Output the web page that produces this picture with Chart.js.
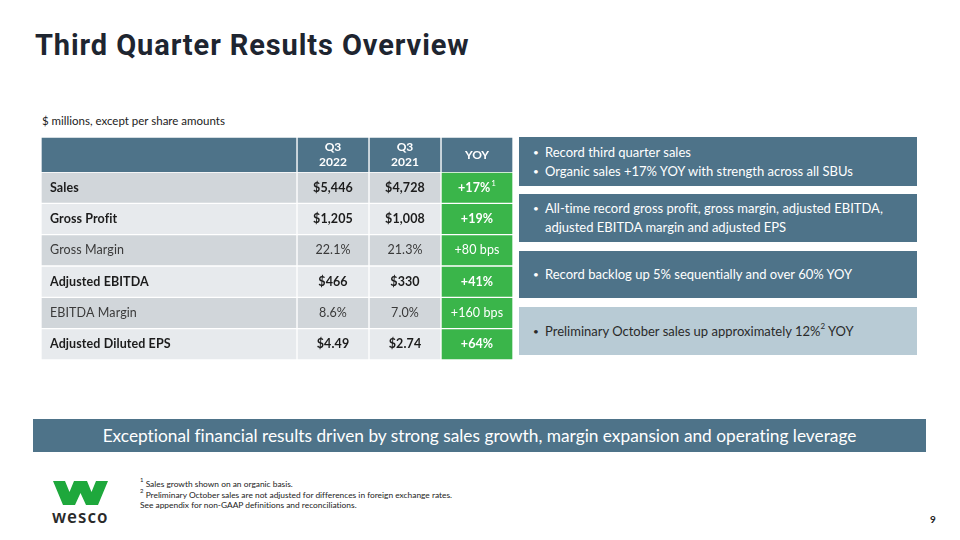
<!DOCTYPE html>
<html>
<head>
<meta charset="utf-8">
<script src="https://cdn.jsdelivr.net/npm/chart.js@4.4.0/dist/chart.umd.min.js"></script>
<style>
  body { margin: 0; width: 960px; height: 540px; background: #fff; font-family: Lato, sans-serif; position: relative; overflow: hidden; font-variant-ligatures: none; }
  .abs { position: absolute; }
  #title { left: 35px; top: 28px; font-family: Roboto, sans-serif; font-weight: 700; font-size: 29px; color: #1e2530; letter-spacing: 0.9px; }
  #units { left: 42px; top: 114px; font-size: 11.5px; color: #222; }
  #headWrap { left: 41px; top: 137px; width: 472px; height: 36px; }
  #bodyWrap { left: 41px; top: 172px; width: 472px; height: 188px; }
  .box { left: 519px; width: 398px; color: #fff; font-size: 13px; box-sizing: border-box; padding-left: 14px; display: flex; flex-direction: column; justify-content: center; }
  .box div { position: relative; padding-left: 12px; line-height: 19px; }
  .box div::before { content: "\2022"; position: absolute; left: 0; font-size: 10px; }
  sup { line-height: 0; position: relative; top: -1px; }
  #banner { left: 33px; top: 419px; width: 893px; height: 33px; background: #4e7389; color: #fff; font-size: 17.3px; line-height: 33px; text-align: center; }
  #notes { left: 140px; top: 479px; font-size: 8.4px; line-height: 10.5px; color: #222; }
  #brand { left: 52px; top: 505px; font-family: "Noto Sans", sans-serif; font-weight: 600; font-size: 17px; color: #2a2a2a; letter-spacing: 1px; }
  #pageNo { left: 930px; top: 513px; font-size: 10px; font-weight: 700; color: #222; }
</style>
</head>
<body>
<div id="title" class="abs">Third Quarter Results Overview</div>
<div id="units" class="abs">$ millions, except per share amounts</div>
<div id="headWrap" class="abs"><canvas id="cabecalho"></canvas></div>
<div id="bodyWrap" class="abs"><canvas id="tabela"></canvas></div>

<div class="abs box" style="top:137px;height:49px;background:#4e7389;">
  <div>Record third quarter sales</div>
  <div>Organic sales +17% YOY with strength across all SBUs</div>
</div>
<div class="abs box" style="top:194px;height:48px;background:#4e7389;">
  <div>All-time record gross profit, gross margin, adjusted EBITDA,<br>adjusted EBITDA margin and adjusted EPS</div>
</div>
<div class="abs box" style="top:251px;height:47px;background:#4e7389;">
  <div>Record backlog up 5% sequentially and over 60% YOY</div>
</div>
<div class="abs box" style="top:307px;height:48px;background:#b8cbd5;color:#2a2a2a;">
  <div>Preliminary October sales up approximately 12%<sup style="font-size:8px;">2</sup> YOY</div>
</div>

<div id="banner" class="abs">Exceptional financial results driven by strong sales growth, margin expansion and operating leverage</div>

<svg class="abs" style="left:53px;top:481px;" width="55" height="24" viewBox="0 0 55 24">
  <polygon fill="#1ea83c" points="0,0 12,0 16.5,11 21,0 34,0 38.5,11 43,0 55,0 45,24 33,24 27.5,12 22,24 10,24"/>
</svg>
<div id="brand" class="abs">wesco</div>
<div id="notes" class="abs">
  <sup style="font-size:6px;">1</sup> Sales growth shown on an organic basis.<br>
  <sup style="font-size:6px;">2</sup> Preliminary October sales are not adjusted for differences in foreign exchange rates.<br>
  See appendix for non-GAAP definitions and reconciliations.
</div>
<div id="pageNo" class="abs">9</div>

<script>
// dados da tabela
const rowLabels = ['Sales', 'Gross Profit', 'Gross Margin', 'Adjusted EBITDA', 'EBITDA Margin', 'Adjusted Diluted EPS'];
const columnHeads = ['', 'Q3|2022', 'Q3|2021', 'YOY'];
const q3_2022 = ['$5,446', '$1,205', '22.1%', '$466', '8.6%', '$4.49'];
const q3_2021 = ['$4,728', '$1,008', '21.3%', '$330', '7.0%', '$2.74'];
const yoy = ['+17%', '+19%', '+80 bps', '+41%', '+160 bps', '+64%'];
const yoyNotes = ['1', '', '', '', '', ''];
const boldRows = [true, true, false, true, false, true];

// layout (larguras das colunas em px)
const colWidths = [256, 72, 72, 72];

const HEADER = '#4e7389';
const GREEN = '#3ab54a';
const ROW_DARK = '#d1d6da';
const ROW_LIGHT = '#e7eaed';

const columns = [rowLabels, q3_2022, q3_2021, yoy];

function bounds(el) {
    const p = el.getProps(['x', 'y', 'base'], true);
    return { left: Math.min(p.x, p.base), right: Math.max(p.x, p.base), y: p.y };
}

const textoCabecalho = {
    id: 'textoCabecalho',
    afterDatasetsDraw(chart) {
        const ctx = chart.ctx;
        ctx.save();
        ctx.textBaseline = 'middle';
        ctx.textAlign = 'center';
        ctx.fillStyle = '#fff';
        ctx.font = 'bold 12px Lato';
        columnHeads.forEach((head, k) => {
            if (!head) return;
            const b = bounds(chart.getDatasetMeta(k).data[0]);
            const cx = (b.left + b.right) / 2;
            const lines = head.split('|');
            lines.forEach((ln, j) => {
                ctx.fillText(ln, cx, b.y + (j - (lines.length - 1) / 2) * 15);
            });
        });
        ctx.restore();
    }
};

const textoCelulas = {
    id: 'textoCelulas',
    afterDatasetsDraw(chart) {
        const ctx = chart.ctx;
        ctx.save();
        ctx.textBaseline = 'middle';
        ctx.letterSpacing = '0.1px';
        columns.forEach((col, k) => {
            chart.getDatasetMeta(k).data.forEach((el, r) => {
                const b = bounds(el);
                const cx = (b.left + b.right) / 2;
                const bold = boldRows[r];
                const fonte = (bold ? 'bold ' : '') + '12.5px Lato';
                ctx.font = fonte;
                if (k === 0) {
                    ctx.fillStyle = bold ? '#1c1c1c' : '#3a3a3a';
                    ctx.textAlign = 'left';
                    ctx.fillText(col[r], b.left + 9, b.y);
                } else if (k === 3) {
                    ctx.fillStyle = '#fff';
                    const note = yoyNotes[r];
                    if (note) {
                        const w = ctx.measureText(col[r]).width;
                        ctx.font = '8px Lato';
                        const wn = ctx.measureText(note).width;
                        const start = cx - (w + wn + 1) / 2;
                        ctx.textAlign = 'left';
                        ctx.font = fonte;
                        ctx.fillText(col[r], start, b.y);
                        ctx.font = '8px Lato';
                        ctx.fillText(note, start + w + 1, b.y - 4);
                    } else {
                        ctx.textAlign = 'center';
                        ctx.fillText(col[r], cx, b.y);
                    }
                } else {
                    ctx.fillStyle = bold ? '#1c1c1c' : '#3a3a3a';
                    ctx.textAlign = 'center';
                    ctx.fillText(col[r], cx, b.y);
                }
            });
        });
        ctx.restore();
    }
};

function criarTabela(canvasId, labels, cor, plugin) {
    new Chart(document.getElementById(canvasId).getContext('2d'), {
        type: 'bar',
        data: {
            labels: labels,
            datasets: colWidths.map((w, k) => ({
                label: 'col' + k,
                data: labels.map(() => w),
                backgroundColor: cor,
                borderColor: '#ffffff',
                borderWidth: 1,
                borderSkipped: false,
                barPercentage: 1,
                categoryPercentage: 1
            }))
        },
        options: {
            indexAxis: 'y',
            responsive: true,
            maintainAspectRatio: false,
            animation: false,
            layout: { padding: 0 },
            scales: {
                x: { stacked: true, display: false, min: 0, max: colWidths.reduce((a, b) => a + b, 0) },
                y: { stacked: true, display: false }
            },
            plugins: {
                legend: { display: false },
                tooltip: { enabled: false }
            }
        },
        plugins: [plugin]
    });
}

criarTabela('cabecalho', ['header'], HEADER, textoCabecalho);
criarTabela('tabela', rowLabels, ctx => {
    if (ctx.datasetIndex === 3) return GREEN;
    return ctx.dataIndex % 2 === 0 ? ROW_DARK : ROW_LIGHT;
}, textoCelulas);
</script>
</body>
</html>
